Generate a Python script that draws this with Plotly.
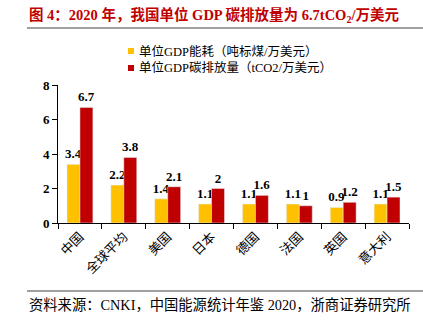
import plotly.graph_objects as go

categories = ["中国", "全球平均", "美国", "日本", "德国", "法国", "英国", "意大利"]
energy = [3.4, 2.2, 1.4, 1.1, 1.1, 1.1, 0.9, 1.1]
carbon = [6.7, 3.8, 2.1, 2, 1.6, 1, 1.2, 1.5]
name_energy = "单位GDP能耗（吨标煤/万美元）"
name_carbon = "单位GDP碳排放量（tCO2/万美元）"
title_text = "图 4：2020 年，我国单位 GDP 碳排放量为 6.7tCO<sub>2</sub>/万美元"
source_text = "资料来源：CNKI，中国能源统计年鉴 2020，浙商证券研究所"
colors = ["#FFC000", "#C00000"]

W, H = 423, 328
L, R, T, B = 58, 14, 85, 105
pw, ph = W - L - R, H - T - B

def px(x):
    return (x - L) / pw

def py(y):
    return (H - B - y) / ph

serif = "Liberation Serif, Times New Roman, Noto Sans CJK SC"
cjk = "Liberation Serif, Noto Sans CJK SC"

fig = go.Figure()
for name, vals, col in [(name_energy, energy, colors[0]), (name_carbon, carbon, colors[1])]:
    fig.add_trace(go.Bar(x=categories, y=vals, name=name, marker_color=col,
                         text=[f"{v:g}" for v in vals], textposition="outside",
                         constraintext="none",
                         textfont=dict(family=serif, size=13, color="black", weight="bold"),
                         cliponaxis=False, showlegend=False))

fig.update_layout(
    width=W, height=H,
    margin=dict(l=L, r=R, t=T, b=B),
    paper_bgcolor="white", plot_bgcolor="white",
    barmode="group", bargap=0.41, bargroupgap=0,
    uniformtext=dict(mode=False),
)
fig.update_xaxes(showline=True, linecolor="black", linewidth=1, ticks="outside",
                 tickson="boundaries", ticklen=5, tickcolor="black", tickangle=-45,
                 tickfont=dict(family="Noto Sans CJK SC", size=13, color="black"),
                 showgrid=False)
fig.update_yaxes(range=[0, 8], tickvals=[0, 2, 4, 6, 8], showline=True, linecolor="black",
                 linewidth=1, ticks="outside", ticklen=5, tickcolor="black",
                 tickfont=dict(family=serif, size=13, color="black", weight="bold"),
                 showgrid=False, zeroline=False)

# custom legend
for i, (name, col) in enumerate([(name_energy, colors[0]), (name_carbon, colors[1])]):
    yc = 51 + 17 * i
    fig.add_shape(type="rect", xref="paper", yref="paper",
                  x0=px(128), x1=px(134), y0=py(yc - 3), y1=py(yc + 3),
                  fillcolor=col, line=dict(width=0))
    fig.add_annotation(text=name, xref="paper", yref="paper", x=px(137), y=py(yc),
                       xanchor="left", yanchor="middle", showarrow=False,
                       font=dict(family=cjk, size=12.5, color="black"))

fig.add_annotation(text=title_text, xref="paper", yref="paper", x=px(27), y=py(15),
                   xanchor="left", yanchor="middle", showarrow=False,
                   font=dict(family=cjk, size=14.5, color="#C00000", weight="bold"))
fig.add_annotation(text=source_text, xref="paper", yref="paper", x=px(27), y=py(305),
                   xanchor="left", yanchor="middle", showarrow=False,
                   font=dict(family=cjk, size=14.3, color="black"))
fig.add_shape(type="line", xref="paper", yref="paper", x0=px(27), x1=px(423),
              y0=py(28), y1=py(28), line=dict(color="#808080", width=1.5))
fig.add_shape(type="line", xref="paper", yref="paper", x0=px(27), x1=px(423),
              y0=py(291), y1=py(291), line=dict(color="#808080", width=1.5))

fig.write_html("out.html")
